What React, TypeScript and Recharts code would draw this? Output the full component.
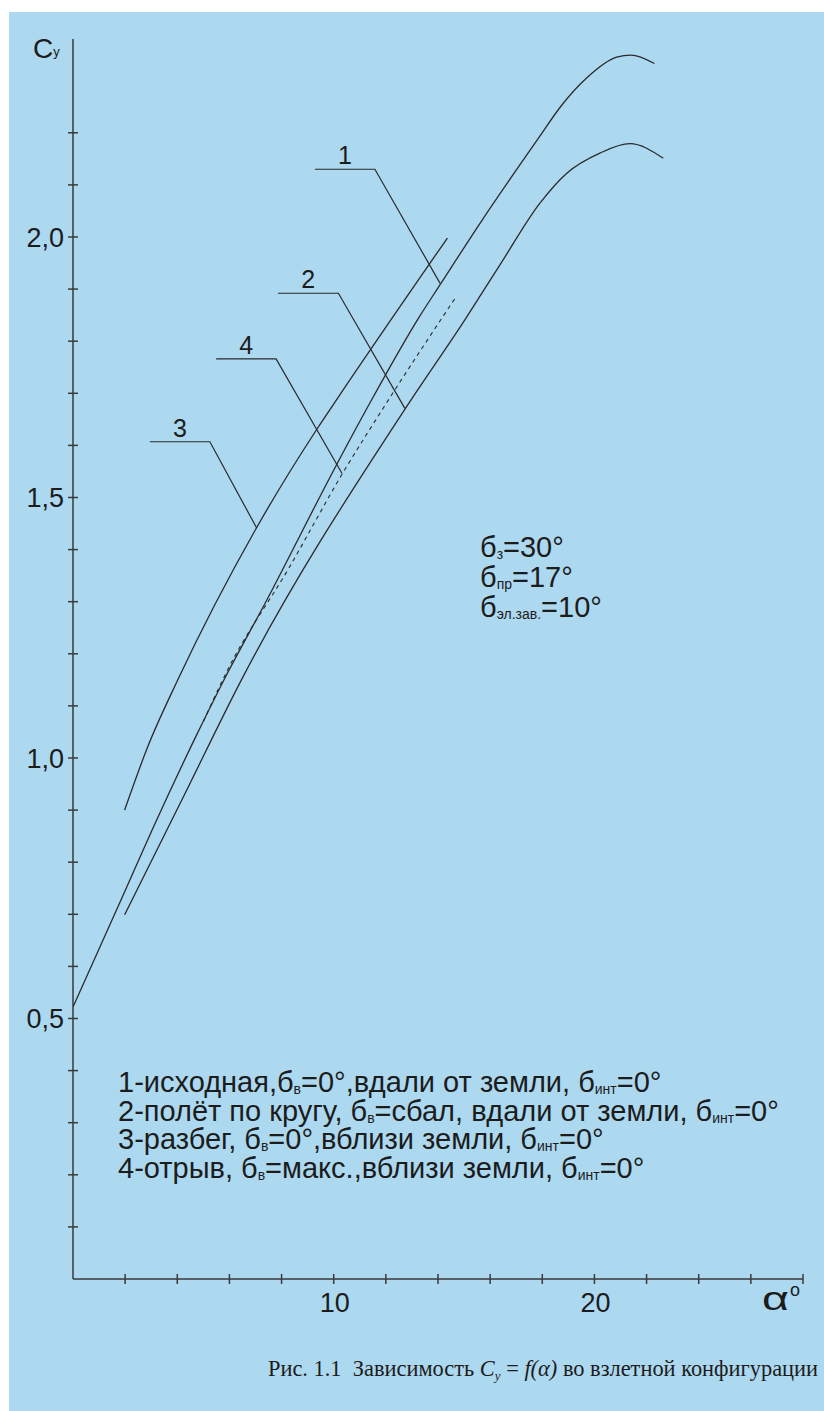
import React from 'react';
import { LineChart, Line, XAxis, YAxis, ReferenceDot } from 'recharts';

// ---- curve data (alpha in degrees, Cy) ----
const alpha1 = [0, 1.9, 3.2, 4.7, 5.75, 7.4, 10.1, 11.45, 13.3, 14.1, 15.7, 17.9, 18.7, 19.7, 20.85, 21.4, 22.3];
const cy1 = [0.522, 0.734, 0.88, 1.04, 1.146, 1.3, 1.562, 1.687, 1.848, 1.91, 2.033, 2.193, 2.25, 2.305, 2.345, 2.349, 2.333];

const alpha2 = [1.98, 4.23, 6.46, 12.79, 15.03, 16.37, 17.91, 18.93, 20.21, 21.36, 22.64];
const cy2 = [0.699, 0.925, 1.15, 1.674, 1.841, 1.946, 2.065, 2.122, 2.161, 2.179, 2.151];

const alpha3 = [1.98, 2.87, 4.02, 7.03, 9.34, 10.1, 14.36];
const cy3 = [0.9, 1.022, 1.15, 1.441, 1.63, 1.687, 1.998];

const alpha4 = [5.0, 5.87, 8.31, 10.3, 12.02, 14.65];
const cy4 = [1.07, 1.163, 1.367, 1.543, 1.681, 1.882];

// ---- leader lines for curve numbers ----
const leaderNames = ['1', '2', '3', '4'];
const leaderAlpha = [
  [9.28, 11.58, 14.08],
  [7.86, 10.18, 12.73],
  [2.95, 5.25, 7.05],
  [5.49, 7.79, 10.32],
];
const leaderCy = [
  [2.13, 2.13, 1.911],
  [1.892, 1.892, 1.671],
  [1.607, 1.607, 1.441],
  [1.766, 1.766, 1.546],
];

// ---- axes ----
const xTicks = [2, 4, 6, 8, 10, 12, 14, 16, 18, 20, 22, 24, 26, 28];
const xTickLabels: Record<string, string> = { '10': '10', '20': '20' };
const yTicks = [0.1, 0.2, 0.3, 0.4, 0.5, 0.6, 0.7, 0.8, 0.9, 1.0, 1.1, 1.2, 1.3, 1.4, 1.5, 1.6, 1.7, 1.8, 1.9, 2.0, 2.1, 2.2];
const yTickLabels: Record<string, string> = { '0.5': '0,5', '1.0': '1,0', '1.5': '1,5', '2.0': '2,0' };

// ---- texts ----
type Part = [string, boolean];
const paramLines: Part[][] = [
  [['б', false], ['з', true], ['=30°', false]],
  [['б', false], ['пр', true], ['=17°', false]],
  [['б', false], ['эл.зав.', true], ['=10°', false]],
];
const legendLines: Part[][] = [
  [['1-исходная,б', false], ['в', true], ['=0°,вдали от земли, б', false], ['инт', true], ['=0°', false]],
  [['2-полёт по кругу, б', false], ['в', true], ['=сбал, вдали от земли, б', false], ['инт', true], ['=0°', false]],
  [['3-разбег, б', false], ['в', true], ['=0°,вблизи земли, б', false], ['инт', true], ['=0°', false]],
  [['4-отрыв, б', false], ['в', true], ['=макс.,вблизи земли, б', false], ['инт', true], ['=0°', false]],
];

const zip = (xs: number[], ys: number[]) => xs.map((a, i) => ({ a, cy: ys[i] }));

const W = 824;
const H = 1411;
const FONT = '"Liberation Sans", Arial, sans-serif';
const SERIF = '"Liberation Serif", "Times New Roman", serif';
const INK = '#1c1c1c';
const LINE = '#2a2a2a';
const AXIS = '#3a3a3a';
const BG = '#acd8f0';

const YTick = (props: any) => {
  const { x, y, payload } = props;
  const key = Number(payload.value).toFixed(1);
  const label = yTickLabels[key];
  return (
    <g>
      <line x1={x - 5} x2={x + 5} y1={y} y2={y} stroke={AXIS} strokeWidth={1.5} />
      {label && (
        <text x={x - 9} y={y} dy={10} textAnchor="end" fontFamily={FONT} fontSize={27} fill={INK}>
          {label}
        </text>
      )}
    </g>
  );
};

const XTick = (props: any) => {
  const { x, y, payload } = props;
  const label = xTickLabels[String(payload.value)];
  return (
    <g>
      <line x1={x} x2={x} y1={y - 5} y2={y + 5} stroke={AXIS} strokeWidth={1.5} />
      {label && (
        <text x={x + 1} y={y + 33} textAnchor="middle" fontFamily={FONT} fontSize={27} fill={INK}>
          {label}
        </text>
      )}
    </g>
  );
};

const Rich = ({ x, y, parts, size, sub }: { x: number; y: number; parts: Part[]; size: number; sub: number }) => (
  <text x={x} y={y} fontFamily={FONT} fontSize={size} fill={INK} xmlSpace="preserve">
    {parts.map(([t, isSub], i) => {
      const prevSub = i > 0 && parts[i - 1][1];
      const dy = isSub ? 2 : prevSub ? -2 : 0;
      return (
        <tspan key={i} fontSize={isSub ? sub : size} dy={dy}>
          {t}
        </tspan>
      );
    })}
  </text>
);

export default function App() {
  const series = [
    { d: zip(alpha1, cy1), dash: undefined as string | undefined, w: 1.3 },
    { d: zip(alpha2, cy2), dash: undefined, w: 1.3 },
    { d: zip(alpha3, cy3), dash: undefined, w: 1.3 },
    { d: zip(alpha4, cy4), dash: '4 4', w: 1.1 },
  ];
  return (
    <div style={{ position: 'absolute', left: 0, top: 0, width: W, height: H, background: '#ffffff', overflow: 'hidden' }}>
      <div style={{ position: 'absolute', left: 9, top: 12, right: 0, bottom: 0, background: BG }} />
      <div style={{ position: 'absolute', left: 0, top: 0 }}>
        <LineChart width={W} height={H} margin={{ top: 39, right: 21, bottom: 92, left: 13 }}>
          <XAxis
            type="number"
            dataKey="a"
            domain={[0, 28]}
            allowDataOverflow
            ticks={xTicks}
            interval={0}
            height={40}
            tickLine={false}
            tickSize={0}
            tickMargin={0}
            axisLine={{ stroke: AXIS, strokeWidth: 1.5 }}
            tick={<XTick />}
          />
          <YAxis
            type="number"
            dataKey="cy"
            domain={[0, 2.38]}
            allowDataOverflow
            ticks={yTicks}
            interval={0}
            width={60}
            tickLine={false}
            tickSize={0}
            tickMargin={0}
            axisLine={{ stroke: AXIS, strokeWidth: 1.5 }}
            tick={<YTick />}
          />
          {series.map((s, i) => (
            <Line
              key={'c' + i}
              data={s.d}
              dataKey="cy"
              type="monotone"
              stroke={LINE}
              strokeWidth={s.w}
              strokeDasharray={s.dash}
              dot={false}
              activeDot={false}
              isAnimationActive={false}
            />
          ))}
          {leaderAlpha.map((xs, i) => (
            <Line
              key={'l' + i}
              data={zip(xs, leaderCy[i])}
              dataKey="cy"
              type="linear"
              stroke={LINE}
              strokeWidth={1.2}
              dot={false}
              activeDot={false}
              isAnimationActive={false}
            />
          ))}
          {leaderAlpha.map((xs, i) => (
            <ReferenceDot
              key={'n' + i}
              x={(xs[0] + xs[1]) / 2}
              y={leaderCy[i][0]}
              r={0}
              fill="none"
              stroke="none"
              ifOverflow="visible"
              label={{ value: leaderNames[i], position: 'top', offset: 5, fontSize: 25, fill: INK, fontFamily: FONT }}
            />
          ))}
        </LineChart>
      </div>
      <svg width={W} height={H} style={{ position: 'absolute', left: 0, top: 0, pointerEvents: 'none' }}>
        <text x={33} y={58} fontFamily={FONT} fontSize={28} fill={INK}>
          C<tspan fontSize={13} dy={-2}>у</tspan>
        </text>
        <text x={762} y={1310} fontFamily={FONT} fontSize={34} fill={INK} textLength={27} lengthAdjust="spacingAndGlyphs">
          α
        </text>
        <text x={790} y={1296} fontFamily={FONT} fontSize={18} fill={INK}>
          o
        </text>
        {paramLines.map((p, i) => (
          <Rich key={'p' + i} x={480} y={557 + i * 30} parts={p} size={29} sub={14} />
        ))}
        {legendLines.map((p, i) => (
          <Rich key={'g' + i} x={118} y={1092 + i * 28.5} parts={p} size={29} sub={14} />
        ))}
        <text x={268} y={1376} fontFamily={SERIF} fontSize={22.4} fill={INK} xmlSpace="preserve">
          {'Рис. 1.1  Зависимость '}
          <tspan fontStyle="italic">C</tspan>
          <tspan fontStyle="italic" fontSize={13} dy={4}>y</tspan>
          <tspan dy={-4}>{' = '}</tspan>
          <tspan fontStyle="italic">f(α)</tspan>
          {' во взлетной конфигурации'}
        </text>
      </svg>
    </div>
  );
}
